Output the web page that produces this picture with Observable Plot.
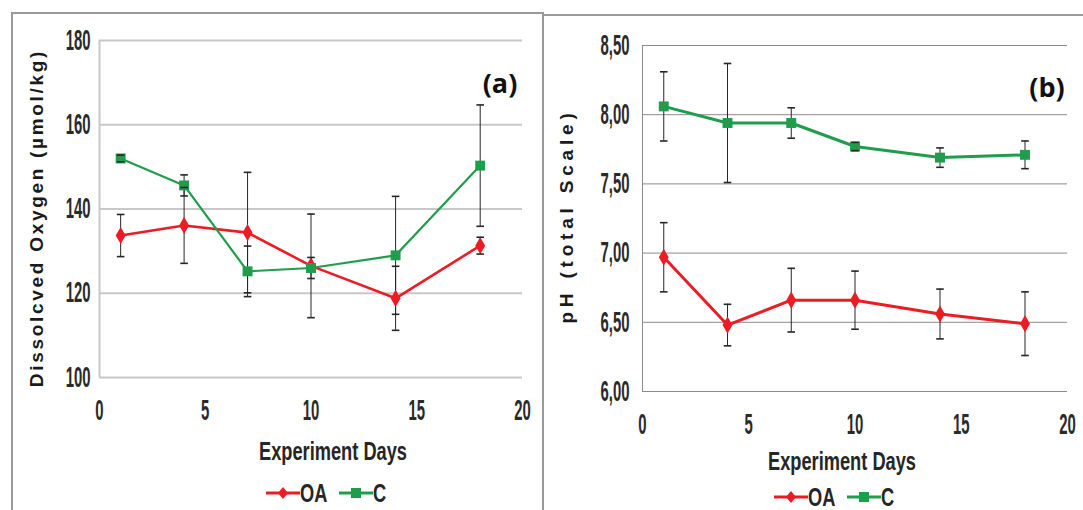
<!DOCTYPE html>
<html>
<head>
<meta charset="utf-8">
<script src="https://cdn.jsdelivr.net/npm/d3@7"></script>
<script src="https://cdn.jsdelivr.net/npm/@observablehq/plot@0.6"></script>
<style>
  body { margin: 0; background: #fff; }
  #wrap { position: relative; width: 1083px; height: 510px; background: #fff; overflow: hidden; }
  .abs { position: absolute; }
  .narrow { font-family: "Liberation Sans", Arial, sans-serif; font-weight: bold; color: #262626; white-space: nowrap; }
  .ytitle { font-family: "Liberation Sans", Arial, sans-serif; font-weight: bold; color: #1a1a1a; white-space: nowrap; transform: translate(-50%, -50%) rotate(-90deg); }
  .xtitle { transform: translate(-50%, -50%) scale(0.76, 1.1); font-size: 24px; }
  .plabel { font-family: "Open Sans", "Noto Sans", sans-serif; font-weight: bold; font-size: 27px; color: #111; transform: translate(-50%, -50%); white-space: nowrap; }
  .legtxt { font-size: 24px; transform: translateY(-50%) scale(0.76, 1.1); transform-origin: 0 50%; }
  .border { position: absolute; background: #9a9a9a; }
</style>
</head>
<body>
<div id="wrap">
  <div id="pa" class="abs" style="left:0;top:0;width:543px;height:420px"></div>
  <div id="pb" class="abs" style="left:545px;top:0;width:538px;height:420px"></div>

  <div class="abs ytitle" style="left:37px;top:218px;font-size:19px;letter-spacing:2.7px">Dissolcved Oxygen (µmol/kg)</div>
  <div class="abs ytitle" style="left:567px;top:216px;font-size:19px;letter-spacing:4.8px">pH (total Scale)</div>

  <div class="abs narrow xtitle" style="left:333px;top:451px">Experiment Days</div>
  <div class="abs narrow xtitle" style="left:842px;top:461px">Experiment Days</div>

  <div class="abs plabel" style="left:500px;top:82px">(a)</div>
  <div class="abs plabel" style="left:1047px;top:86px">(b)</div>

  <div id="legend-a"></div>
  <div id="legend-b"></div>

  <div class="border" style="left:11px;top:12px;width:533px;height:2px"></div>
  <div class="border" style="left:11px;top:12px;width:2px;height:498px"></div>
  <div class="border" style="left:542px;top:12px;width:2px;height:498px"></div>
  <div class="border" style="left:544px;top:14px;width:539px;height:2px"></div>
</div>
<script>
// ---- data ----
const days = [1, 4, 7, 10, 14, 18];
const seriesNames = ["OA", "C"];

const doOA    = [133.7, 136.1, 134.4, 126.5, 118.8, 131.3];
const doOAerr = [5.0, 9.0, 14.3, 12.3, 7.6, 2.0];
const doC     = [152.0, 145.6, 125.2, 126.0, 129.0, 150.3];
const doCerr  = [0.8, 2.5, 6.0, 2.5, 14.0, 14.4];

const phOA    = [6.97, 6.48, 6.66, 6.66, 6.56, 6.49];
const phOAerr = [0.25, 0.15, 0.23, 0.21, 0.18, 0.23];
const phC     = [8.06, 7.94, 7.94, 7.77, 7.69, 7.71];
const phCerr  = [0.25, 0.43, 0.11, 0.03, 0.07, 0.10];

const xTicks  = [0, 5, 10, 15, 20];
const doTicks = [100, 120, 140, 160, 180];
const phTicks = [6.0, 6.5, 7.0, 7.5, 8.0, 8.5];

// ---- styles ----
const RED = "#ec1c24";
const GREEN = "#1f9d4c";
const ERR = "#262626";
const tickFont = '"Liberation Sans", Arial, sans-serif';

const capSymbol = {
  draw(ctx, size) {
    const w = Math.sqrt(size / Math.PI);
    ctx.moveTo(-w, 0);
    ctx.lineTo(w, 0);
  }
};

function rows(vals, errs, series) {
  return days.map((d, i) => ({day: d, v: vals[i], e: errs[i], series}));
}
function caps(rs) {
  return rs.flatMap(r => [{day: r.day, y: r.v - r.e}, {day: r.day, y: r.v + r.e}]);
}

function panel(o) {
  const A = rows(o.oa, o.oaErr, "OA");
  const B = rows(o.c, o.cErr, "C");
  const textOpts = {fontSize: 24, fontWeight: "bold", fill: "#2a2a2a"};
  const svg = Plot.plot({
    width: o.width, height: 420,
    marginLeft: o.ml, marginRight: o.mr, marginTop: o.mt, marginBottom: o.mb,
    style: {background: "transparent", fontFamily: tickFont, fontSize: "24px", color: "#2a2a2a", overflow: "visible"},
    x: {domain: [0, 20], ticks: xTicks},
    y: {domain: o.ydomain, ticks: o.yticks},
    marks: [
      Plot.gridY(o.yticks, {stroke: o.gridColor, strokeOpacity: 1, strokeWidth: o.gridWidth}),
      Plot.ruleX([0], {stroke: o.gridColor, strokeWidth: o.gridWidth}),
      Plot.axisX(xTicks, {tickSize: 0, tickPadding: 22, label: null, ...textOpts}),
      Plot.axisY(o.yticks, {tickSize: 0, tickPadding: o.tp, label: null, tickFormat: o.fmt, ...textOpts}),
      Plot.ruleX([...A, ...B], {x: "day", y1: d => d.v - d.e, y2: d => d.v + d.e, stroke: ERR, strokeWidth: 1}),
      Plot.line(A, {x: "day", y: "v", stroke: RED, strokeWidth: o.lw}),
      Plot.line(B, {x: "day", y: "v", stroke: GREEN, strokeWidth: o.lwC}),
      Plot.dot(A, {x: "day", y: "v", symbol: "diamond", r: 5.2, fill: RED}),
      Plot.dot(B, {x: "day", y: "v", symbol: "square", r: 5.6, fill: GREEN}),
      Plot.dot(caps([...A, ...B]), {x: "day", y: "y", symbol: capSymbol, r: 3.8, stroke: ERR, strokeWidth: 1.6, fill: "none"})
    ]
  });
  // condense the tick labels horizontally (and stretch slightly), like the narrow font of the original
  svg.querySelectorAll('g[aria-label$="tick label"] text').forEach(t => {
    const tr = t.getAttribute("transform") || "";
    t.setAttribute("transform", tr + " scale(0.62,1.2)");
  });
  return svg;
}

document.getElementById("pa").append(panel({
  width: 543, ml: 99, mr: 21, mt: 40, mb: 43,
  ydomain: [100, 180], yticks: doTicks, tp: 9, fmt: d => String(d),
  oa: doOA, oaErr: doOAerr, c: doC, cErr: doCerr,
  gridColor: "#c8c8c8", gridWidth: 2, lw: 2.6, lwC: 2.2
}));

document.getElementById("pb").append(panel({
  width: 538, ml: 97, mr: 16, mt: 45, mb: 29,
  ydomain: [6, 8.5], yticks: phTicks, tp: 13, fmt: d => d.toFixed(2).replace(".", ","),
  oa: phOA, oaErr: phOAerr, c: phC, cErr: phCerr,
  gridColor: "#8a8a8a", gridWidth: 1, lw: 3, lwC: 3
}));

// ---- legends ----
function swatch(color, shape, left, top) {
  const ns = "http://www.w3.org/2000/svg";
  const s = document.createElementNS(ns, "svg");
  s.setAttribute("width", 34); s.setAttribute("height", 14);
  s.style.position = "absolute"; s.style.left = left + "px"; s.style.top = (top - 7) + "px";
  const l = document.createElementNS(ns, "line");
  l.setAttribute("x1", 0); l.setAttribute("x2", 34); l.setAttribute("y1", 7); l.setAttribute("y2", 7);
  l.setAttribute("stroke", color); l.setAttribute("stroke-width", 3);
  s.append(l);
  const p = document.createElementNS(ns, "path");
  p.setAttribute("d", shape === "diamond" ? "M17,1L22,7L17,13L12,7Z" : "M12,2H22V12H12Z");
  p.setAttribute("fill", color);
  s.append(p);
  return s;
}
function legend(id, x0, y) {
  const el = document.getElementById(id);
  const colors = {OA: RED, C: GREEN};
  const shapes = {OA: "diamond", C: "square"};
  const offsets = {OA: 0, C: 73};
  seriesNames.forEach(n => {
    const x = x0 + offsets[n];
    el.append(swatch(colors[n], shapes[n], x, y));
    const t = document.createElement("div");
    t.className = "abs narrow legtxt";
    t.style.left = (x + 34) + "px";
    t.style.top = y + "px";
    t.textContent = n;
    el.append(t);
  });
}
legend("legend-a", 266, 493);
legend("legend-b", 774, 497);
</script>
</body>
</html>
